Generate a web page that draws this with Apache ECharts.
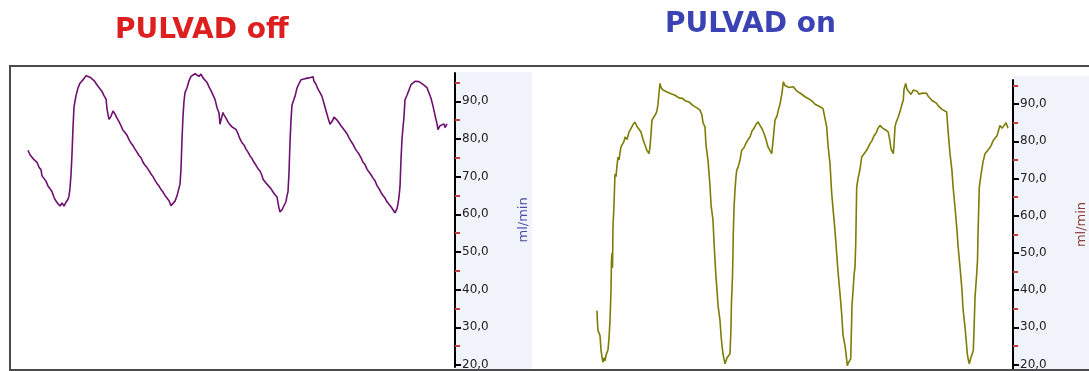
<!DOCTYPE html>
<html>
<head>
<meta charset="utf-8">
<script src="https://cdn.jsdelivr.net/npm/echarts@6/dist/echarts.min.js"></script>
<style>
html,body{margin:0;padding:0;background:#fff;}
#c{width:1089px;height:371px;}
</style>
</head>
<body>
<div id="c"></div>
<script>
// ---- data (time in samples, flow in ml/min) ----
const titleOff = 'PULVAD off';
const titleOn = 'PULVAD on';
const unitLabel = 'ml/min';
const majorTicks = [20, 30, 40, 50, 60, 70, 80, 90];
const minorTicks = [25, 35, 45, 55, 65, 75, 85, 95];

const flowOff = [[16,77],[18,75.8],[20,76],[22,74.5],[25,73.8],[27,72.5],[29,71.8],[30,70.2],[32,70],[34,68.8],[36,67.5],[38,66.8],[40,66],[42,64.5],[44,63.5],[46,62.8],[48,62.2],[50,63],[52,62.2],[54,63.2],[56,64],[57,64.8],[58,67],[59,70.5],[60,76],[61,83],[62,88.5],[63,90],[64,91.5],[66,93.5],[68,94.8],[70,95.2],[72,96],[74,96.8],[76,97.3],[78,96.4],[80,96.2],[82,95.5],[84,95],[86,94],[88,93.5],[90,92.6],[92,91.5],[94,90.6],[95,88],[96,86.5],[97,85.2],[99,86],[101,87.4],[103,86.6],[105,85.5],[107,84.6],[109,83.5],[111,82.3],[113,81.7],[115,81],[117,79.8],[119,78.9],[121,78.2],[123,77.3],[125,76.5],[127,75.6],[129,75],[131,73.8],[133,73],[135,72.4],[137,71.6],[139,70.7],[141,70],[143,69],[145,68.2],[147,67.5],[149,66.6],[151,65.9],[153,65],[155,64.5],[157,63.6],[159,62.3],[161,62.8],[163,63.5],[165,64.9],[167,65.2],[168,68],[169,72],[170,79.9],[171,86],[172,90],[173,92.3],[175,93.6],[177,95.4],[179,96.6],[181,96.9],[183,97.3],[185,97],[187,96.6],[189,97.2],[191,96.2],[193,95.7],[195,95],[197,93.8],[199,92.8],[201,92.3],[203,90.5],[205,88.3],[207,86.9],[208,83.9],[209,85],[211,87],[212,86.4],[214,85.5],[216,84.5],[218,83.8],[220,83.2],[222,83.5],[224,82.5],[226,81.4],[228,80],[230,79],[232,78.4],[234,77.3],[236,76.5],[238,75.5],[240,74.8],[242,73.8],[244,73],[246,72.1],[248,71.5],[250,70.3],[251,69.3],[253,68.9],[255,68],[257,67.5],[259,66.8],[261,65.9],[263,65.2],[265,64.6],[266,63],[267,61.7],[268,60.6],[270,61.2],[272,61],[274,63.4],[275,64.9],[276,66],[277,71],[278,79.1],[279,85],[280,89],[283,91.3],[285,93.5],[287,94.7],[289,95.7],[291,95.3],[293,96],[295,95.6],[297,96.2],[299,95.8],[301,96.5],[302,95.3],[304,94.5],[306,93.2],[308,92.3],[310,91.3],[312,89.4],[314,87.5],[316,85.6],[318,83.9],[320,84.6],[322,85.8],[323,86],[325,85],[327,84.3],[329,83.5],[331,83],[333,82.1],[335,81.4],[337,80.3],[339,79.4],[341,78.6],[343,77.5],[345,76.7],[347,76],[349,75],[351,73.8],[353,73.2],[355,72],[357,71.2],[359,70.5],[361,69.6],[363,68.9],[365,67.6],[367,66.8],[369,65.8],[371,65],[373,64.3],[375,63.3],[377,62.8],[379,62],[381,61.2],[383,60.4],[385,61.5],[386,62.8],[387,64.6],[388,67.4],[389,74.6],[390,80],[392,86],[393,90.4],[395,91.6],[397,93],[399,94.4],[401,94.6],[403,95.3],[405,95.7],[407,95.2],[409,95.4],[411,94.5],[413,94.4],[415,93.6],[417,92.2],[419,90.8],[421,88.7],[423,86.3],[425,84],[426,82.5],[428,83.5],[430,83.1],[432,84],[433,83],[435,84]];

const flowOn = [[52,34.5],[52.5,31],[53,29.1],[54,28.5],[55,27.8],[56,24],[57,22],[58,20.6],[59,21.8],[60,21],[61,22.5],[62,23],[63,24],[64,27],[65,31.8],[66,40],[66.5,48],[67,50],[67.5,46],[68,57],[69,63],[70,71.3],[71,70.5],[72,73.5],[73,75.8],[74,75],[75,77],[76,78.5],[77,78],[79,80],[80,81.2],[82,80.5],[84,82.5],[86,83],[88,84.5],[90,85.2],[92,84],[94,83.5],[96,82.5],[98,80.5],[100,79],[102,77.5],[104,76.7],[105,78.5],[106,82],[107,85.7],[109,86],[111,87.5],[112,88.3],[113,90],[114,93],[115,95.6],[116,94.5],[118,93.8],[120,94.2],[122,93.3],[124,93.6],[126,92.8],[128,93.2],[130,92.4],[132,92.6],[134,91.7],[136,92],[138,91.5],[140,90.9],[142,91.2],[144,90.6],[146,90.2],[148,89.6],[150,89.3],[152,89],[155,88.4],[157,87],[158,85],[160,83.9],[161,79],[163,74.9],[165,68],[166,63],[168,58.8],[169,53],[170,48],[171,43.5],[172,40],[173,36],[175,31.8],[176,28],[177,25],[178,22.9],[179,21.5],[180,20.2],[181,21],[182,21.8],[184,22],[185,22.9],[186,30],[186.5,37.2],[187,40],[187.5,44],[188,50],[188.3,55.2],[189,62],[190,67],[191,70.5],[191.7,72.2],[193,73],[195,75],[196.7,77.6],[199,78.3],[201,79.5],[203,80.5],[205,81.2],[207,82.8],[209,83.5],[211,84.6],[213,85.2],[215,84.3],[217,83.4],[219,82.1],[221,80.5],[223,78.5],[225,77.5],[226.7,76.7],[228,80],[229,83],[230,85.7],[232,86.8],[233.3,88.4],[235,90],[237,93],[238.3,96],[240,95],[242,95.3],[244,94.5],[246,95],[248.3,94.7],[250,94.2],[252,93.5],[254,93.8],[256,92.8],[258,93],[260,92],[262,92.2],[264,91.4],[266,91],[268,90.6],[270,90],[272,89.6],[275,89.3],[278,88.8],[280,88.4],[281.7,83.9],[283,79],[285,74],[286.7,66],[288,62],[290,56],[291.7,49.8],[293,45],[295,39],[296.7,33.6],[298,28],[300,25],[301,23],[302.3,19.7],[303.5,20.5],[305,20],[305.7,21.5],[306.5,30],[307,36],[308.3,40.8],[309,44],[310,46.2],[310.7,52],[311.7,67.7],[313,70],[315,72.5],[316.7,75.8],[318,75.3],[320,77],[322,77.8],[325,79.4],[327,80.2],[329,81.5],[331,82.2],[333,83.5],[335,84.3],[337,83.7],[339,84.1],[341,83],[343.3,82.5],[345,80],[346,78],[348.3,76.7],[349,79],[350,83.9],[351,85],[353.3,86.6],[355,88],[357,90],[358.3,91.1],[359,94],[360.7,95.6],[362,94],[364,93.5],[366,92.6],[368.3,93.8],[370,93.4],[372,93.5],[374,92.7],[376,92.2],[378,93],[381.7,92.9],[383,92.2],[385,91.6],[387,91],[389,90.6],[391.7,90.2],[393,89.6],[395,89.2],[397,88.6],[399,88.3],[401.7,87.9],[403,83],[405,76.7],[407,72],[408,68],[410,62.3],[412,56],[413,52],[415,46.2],[417,40],[418,35],[420,30],[421,27],[422.3,22.9],[423.5,21],[424.3,20.2],[425.5,21.5],[427,22],[428.3,23.8],[429,29],[430,38],[431.7,44.4],[432.5,48],[433,55],[434.3,67.7],[436,71],[438,74.5],[440,76.7],[442,76.3],[444,78],[446,78.8],[448.3,80.3],[450,80.8],[452,81.5],[455,84.3],[457,83.5],[459,84],[461,85],[463,83.5]];

// ---- chart ----
const fmt = v => v.toFixed(1).replace('.', ',');
function mainY(grid, min, max, nameColor) {
  return {
    gridIndex: grid, type: 'value', position: 'right', min: min, max: max,
    axisLine: {show: true, onZero: false, lineStyle: {color: '#000', width: 2}},
    axisTick: {show: true, customValues: majorTicks, length: 6, lineStyle: {color: '#000', width: 2}},
    axisLabel: {customValues: majorTicks, formatter: fmt, color: '#222', fontSize: 12, fontFamily: 'DejaVu Sans', margin: 7},
    splitLine: {show: false},
    name: unitLabel, nameLocation: 'middle', nameRotate: 90, nameGap: 62,
    nameTextStyle: {color: nameColor, fontSize: 13, fontFamily: 'DejaVu Sans'}
  };
}
function minorY(grid, min, max) {
  return {
    gridIndex: grid, type: 'value', position: 'right', min: min, max: max,
    axisLine: {show: false, onZero: false},
    axisTick: {show: true, customValues: minorTicks, length: 5, lineStyle: {color: '#c83c3c', width: 2}},
    axisLabel: {show: false}, splitLine: {show: false}
  };
}
const chart = echarts.init(document.getElementById('c'), null, {renderer: 'canvas'});
chart.setOption({
  animation: false,
  backgroundColor: '#fff',
  title: [
    {text: titleOff, left: 115, top: 17, padding: 0,
     textStyle: {color: '#dd1f1f', fontSize: 28, fontWeight: 'bold', fontFamily: 'DejaVu Sans'}},
    {text: titleOn, left: 665, top: 11, padding: 0,
     textStyle: {color: '#3a42b4', fontSize: 28, fontWeight: 'bold', fontFamily: 'DejaVu Sans'}}
  ],
  graphic: [
    {type: 'rect', z: -10, shape: {x: 456, y: 72, width: 76, height: 297}, style: {fill: '#f0f4fa'}},
    {type: 'rect', z: -10, shape: {x: 1014, y: 76, width: 80, height: 293}, style: {fill: '#f0f4fa'}},
    {type: 'rect', z: 100, shape: {x: 10, y: 66, width: 1090, height: 304}, style: {fill: null, stroke: '#4a4a4a', lineWidth: 2}}
  ],
  grid: [
    {left: 12, right: 634, top: 73, bottom: 2},
    {left: 545, right: 76, top: 80, bottom: 2}
  ],
  xAxis: [
    {gridIndex: 0, type: 'value', min: 0, max: 443, show: false, axisLine: {onZero: false}},
    {gridIndex: 1, type: 'value', min: 0, max: 468, show: false, axisLine: {onZero: false}}
  ],
  yAxis: [
    mainY(0, 19.5, 97.5, '#4848a8'),
    minorY(0, 19.5, 97.5),
    mainY(1, 18.8, 96.5, '#8a3a34'),
    minorY(1, 18.8, 96.5)
  ],
  series: [
    {type: 'line', xAxisIndex: 0, yAxisIndex: 0, data: flowOff, showSymbol: false,
     lineStyle: {color: '#6e1070', width: 1.6}},
    {type: 'line', xAxisIndex: 1, yAxisIndex: 2, data: flowOn, showSymbol: false,
     lineStyle: {color: '#7c7c06', width: 1.6}}
  ]
});
</script>
</body>
</html>
